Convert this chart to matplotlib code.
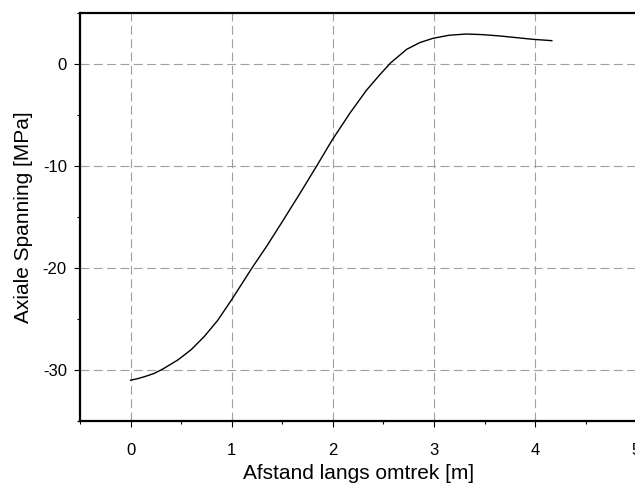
import numpy as np
import matplotlib
matplotlib.use("Agg")
import matplotlib.pyplot as plt
from matplotlib.ticker import MultipleLocator

plt.rcParams['font.family'] = ['Liberation Sans', 'DejaVu Sans']
plt.rcParams['axes.unicode_minus'] = False

# curve
afstand = [0.0, 0.07, 0.14, 0.23, 0.32, 0.47, 0.60, 0.73, 0.86, 1.0, 1.11,
           1.2, 1.35, 1.51, 1.68, 1.84, 1.99, 2.17, 2.33, 2.46, 2.57, 2.73,
           2.86, 2.99, 3.15, 3.32, 3.48, 3.65, 3.82, 3.98, 4.165]
spanning = [-31.0, -30.85, -30.65, -30.35, -29.9, -29.0, -28.0, -26.7, -25.15,
            -23.1, -21.4, -20.0, -17.8, -15.3, -12.6, -10.0, -7.5, -4.8,
            -2.6, -1.1, 0.1, 1.44, 2.1, 2.52, 2.82, 2.94, 2.88, 2.75, 2.58,
            2.42, 2.29]

xticks = [0, 1, 2, 3, 4, 5]
yticks = [-30, -20, -10, 0]

fig = plt.figure(figsize=(6.35, 4.91), dpi=100)
ax = fig.add_axes([0.126, 0.1426, 0.876, 0.8309])

ax.plot(afstand, spanning, color='black', lw=1.0)

ax.set_xlim(-0.5, 5)
ax.set_ylim(-35, 5)
ax.set_xticks(xticks)
ax.set_yticks(yticks)
ax.xaxis.set_minor_locator(MultipleLocator(0.5))
ax.yaxis.set_minor_locator(MultipleLocator(5))

ax.grid(True, which='major', color='#a0a0a0', lw=0.8, linestyle=(0, (8, 4)))

for side in ['top', 'left', 'bottom']:
    ax.spines[side].set_linewidth(1.6)
ax.spines['right'].set_visible(False)

ax.tick_params(axis='x', which='major', direction='out', length=4, width=0.8,
               pad=11.5, labelsize=12)
ax.tick_params(axis='y', which='major', direction='out', length=4.5, width=0.8,
               pad=5, labelsize=12)
ax.tick_params(which='minor', direction='out', length=2.5, width=0.8)

ax.set_xlabel('Afstand langs omtrek [m]', fontsize=15, labelpad=5)
ax.set_ylabel('Axiale Spanning [MPa]', fontsize=15, labelpad=7)

fig.savefig('out.png', dpi=100)
